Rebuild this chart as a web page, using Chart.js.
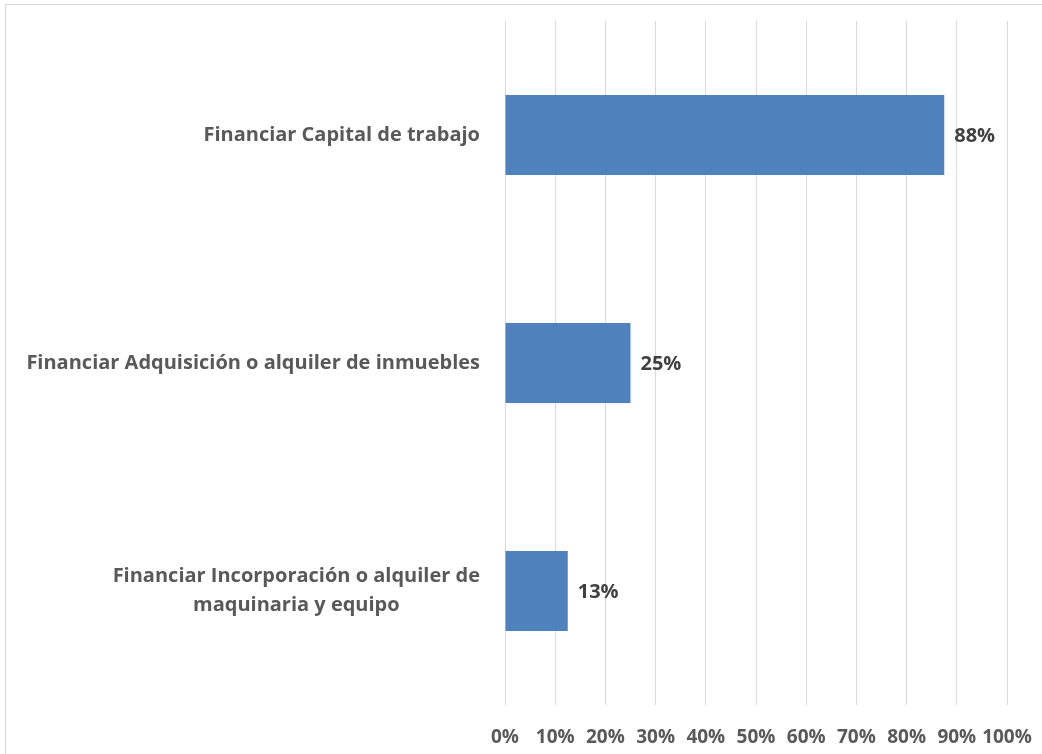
<!DOCTYPE html>
<html>
<head>
<meta charset="utf-8">
<script src="https://cdn.jsdelivr.net/npm/chart.js@4.4.1/dist/chart.umd.min.js"></script>
<style>
  html, body { margin: 0; padding: 0; background: #fff; overflow: hidden; }
  #frame {
    position: absolute; left: 5px; top: 4px;
    width: 1100px; height: 800px;
    border: 1px solid #d9d9d9; box-sizing: border-box;
  }
  #wrap { position: absolute; left: 0; top: 0; width: 1042px; height: 754px; }
</style>
</head>
<body>
<div id="frame"></div>
<div id="wrap"><canvas id="chart"></canvas></div>
<script>
// categories, top to bottom
const categories = [
    ["Financiar Capital de trabajo"],
    ["Financiar Adquisición o alquiler de inmuebles"],
    ["Financiar Incorporación o alquiler de", "maquinaria y equipo"]
];
// share of respondents (%)
const values = [87.5, 25, 12.5];
const xTicks = [0, 10, 20, 30, 40, 50, 60, 70, 80, 90, 100];

const FONT = "'Open Sans', Lato, sans-serif";
const AXIS_W = 505;   // y axis box width (left edge of plot area)

// draws the category labels: block right-aligned, lines centred inside the block
const yLabels = {
    id: 'yLabels',
    afterDraw(chart) {
        const ctx = chart.ctx;
        const y = chart.scales.y;
        ctx.save();
        ctx.font = "bold 20px " + FONT;
        ctx.fillStyle = '#595959';
        ctx.textAlign = 'center';
        ctx.textBaseline = 'middle';
        const lineH = 29;
        categories.forEach((lines, i) => {
            const w = Math.max(...lines.map(l => ctx.measureText(l).width));
            const cx = y.right - 25 - w / 2;
            const cy = y.getPixelForTick(i);
            lines.forEach((l, k) => {
                ctx.fillText(l, cx, cy + (k - (lines.length - 1) / 2) * lineH);
            });
        });
        ctx.restore();
    }
};

// value labels at the end of each bar
const barLabels = {
    id: 'barLabels',
    afterDatasetsDraw(chart) {
        const ctx = chart.ctx;
        const meta = chart.getDatasetMeta(0);
        ctx.save();
        ctx.font = "bold 20px " + FONT;
        ctx.fillStyle = '#404040';
        ctx.textAlign = 'left';
        ctx.textBaseline = 'middle';
        meta.data.forEach((bar, i) => {
            ctx.fillText(Math.round(values[i]) + '%', bar.x + 10, bar.y + 1);
        });
        ctx.restore();
    }
};

new Chart(document.getElementById('chart'), {
    type: 'bar',
    data: {
        labels: categories.map(c => c.join(' ')),
        datasets: [{
            data: values,
            backgroundColor: '#4f81bd',
            borderWidth: 0,
            categoryPercentage: 1,
            barPercentage: 0.35
        }]
    },
    options: {
        indexAxis: 'y',
        responsive: true,
        maintainAspectRatio: false,
        animation: false,
        layout: { padding: { left: 0, right: 35, top: 21, bottom: 0 } },
        plugins: { legend: { display: false }, tooltip: { enabled: false } },
        scales: {
            x: {
                min: 0, max: 100,
                afterBuildTicks: s => { s.ticks = xTicks.map(v => ({ value: v })); },
                grid: { color: '#d9d9d9', lineWidth: 1, drawTicks: false },
                border: { display: false },
                ticks: {
                    padding: 21,
                    color: '#595959',
                    font: { family: FONT, size: 19, weight: 'bold' },
                    callback: v => v + '%',
                    maxRotation: 0,
                    autoSkip: false
                },
                afterFit: s => { s.height = 49; s.paddingLeft = 0; s.paddingRight = 0; }
            },
            y: {
                grid: { display: false },
                border: { display: false },
                ticks: { display: false },
                afterFit: s => { s.width = AXIS_W; }
            }
        }
    },
    plugins: [yLabels, barLabels]
});
</script>
</body>
</html>
